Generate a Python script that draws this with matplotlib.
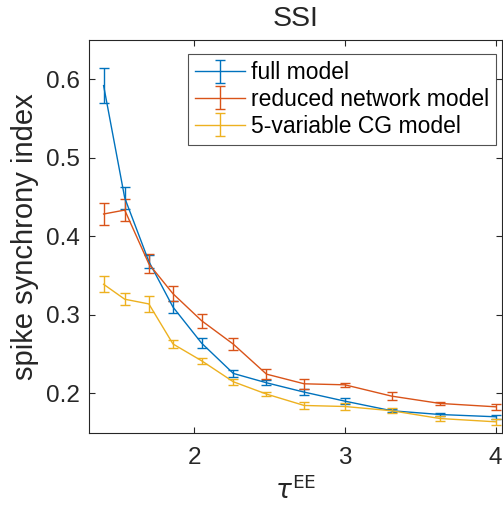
import matplotlib.pyplot as plt

# 데이터
tau = [1.40, 1.54, 1.70, 1.86, 2.05, 2.26, 2.48, 2.73, 3.00, 3.31, 3.63, 4.00]

full = [0.592, 0.449, 0.368, 0.310, 0.264, 0.2255, 0.2136, 0.2017, 0.1902, 0.178, 0.1732, 0.1703]
full_err = [0.022, 0.0135, 0.008, 0.008, 0.006, 0.005, 0.003, 0.0035, 0.0035, 0.002, 0.0025, 0.0025]

reduced = [0.4285, 0.4335, 0.365, 0.327, 0.2926, 0.2628, 0.2246, 0.2123, 0.211, 0.1966, 0.1873, 0.183]
reduced_err = [0.014, 0.014, 0.012, 0.0095, 0.009, 0.008, 0.006, 0.006, 0.0025, 0.005, 0.002, 0.0035]

cg = [0.339, 0.320, 0.314, 0.263, 0.2416, 0.2149, 0.1992, 0.1847, 0.1834, 0.178, 0.1681, 0.1639]
cg_err = [0.010, 0.0075, 0.010, 0.005, 0.004, 0.004, 0.003, 0.004, 0.004, 0.003, 0.003, 0.0035]

labels = ['full model', 'reduced network model', '5-variable CG model']
colors = ['#0072BD', '#D95319', '#EDB120']

plt.rcParams['font.family'] = ['Liberation Sans', 'DejaVu Sans']
plt.rcParams['mathtext.fontset'] = 'dejavusans'

fig = plt.figure(figsize=(5.03, 5.07), dpi=100)
ax = fig.add_axes([0.1775, 0.1465, 0.82, 0.7745])

for y, e, lab, c in zip([full, reduced, cg], [full_err, reduced_err, cg_err], labels, colors):
    ax.errorbar(tau, y, yerr=e, color=c, lw=1.0, elinewidth=1.0, capsize=3.6,
                capthick=1.0, label=lab)

# 축 설정
ax.set_xlim(1.305, 4.04)
ax.set_ylim(0.15, 0.65)
ax.set_xticks([2, 3, 4])
ax.set_yticks([0.2, 0.3, 0.4, 0.5, 0.6])
ax.set_yticklabels(['0.2', '0.3', '0.4', '0.5', '0.6'])
ax.tick_params(direction='in', top=True, right=True, labelsize=17.5, colors='#262626',
               length=4, width=0.8)
ax.tick_params(axis='x', pad=10)
ax.tick_params(axis='y', pad=7)
for s in ax.spines.values():
    s.set_color('#262626')
    s.set_linewidth(0.8)

ax.set_title('SSI', fontsize=20.5, color='#262626', pad=10)
ax.set_ylabel('spike synchrony index', fontsize=21, color='#262626', labelpad=5)
ax.set_xlabel(r'$\tau^{\mathrm{EE}}$', fontsize=19, color='#262626', labelpad=5)

# 범례
leg = ax.legend(loc='upper right', bbox_to_anchor=(0.986, 0.964), fontsize=16.5,
                frameon=True, fancybox=False, edgecolor='#262626', borderpad=0.3,
                labelspacing=0.17, handlelength=2.2, handletextpad=0.25,
                borderaxespad=0)
leg.get_frame().set_linewidth(0.8)

fig.savefig('out.png', dpi=100)
